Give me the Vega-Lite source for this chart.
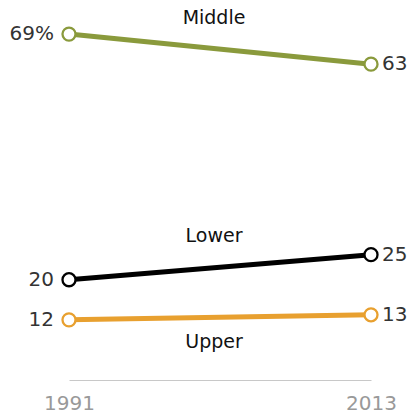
{
  "$schema": "https://vega.github.io/schema/vega-lite/v6.json",
  "autosize": "none",
  "width": 302,
  "height": 376,
  "padding": {"left": 69, "top": 4, "right": 41, "bottom": 39},
  "background": "white",
  "config": {"view": {"stroke": null}, "font": "DejaVu Sans"},
  "data": {"values": [
    {"series": "Middle", "year": 1991, "value": 69, "label": "69%"},
    {"series": "Middle", "year": 2013, "value": 63, "label": "63"},
    {"series": "Lower", "year": 1991, "value": 20, "label": "20"},
    {"series": "Lower", "year": 2013, "value": 25, "label": "25"},
    {"series": "Upper", "year": 1991, "value": 12, "label": "12"},
    {"series": "Upper", "year": 2013, "value": 13, "label": "13"}
  ]},
  "encoding": {
    "x": {"field": "year", "type": "quantitative",
      "scale": {"domain": [1991, 2013], "nice": false, "zero": false},
      "axis": {"title": null, "values": [1991, 2013], "format": "d", "grid": false, "ticks": false,
        "domainColor": "#c8c8c8", "domainWidth": 1, "labelColor": "#999999", "labelFontSize": 20,
        "labelPadding": 13, "labelFlush": false}},
    "y": {"field": "value", "type": "quantitative", "scale": {"domain": [0, 75], "nice": false}, "axis": null},
    "color": {"field": "series", "type": "nominal", "legend": null,
      "scale": {"domain": ["Middle", "Lower", "Upper"], "range": ["#8a9a3c", "#000000", "#e8a02f"]}}
  },
  "layer": [
    {"mark": {"type": "line", "strokeWidth": 5}},
    {"mark": {"type": "point", "shape": "circle", "filled": false, "fill": "white", "fillOpacity": 1, "strokeWidth": 2.3, "size": 170, "opacity": 1}},
    {"transform": [{"filter": "datum.year == 1991"}],
     "mark": {"type": "text", "align": "right", "baseline": "middle", "dx": -15, "fontSize": 20, "color": "#333333"},
     "encoding": {"text": {"field": "label"}, "color": {"value": "#333333"}}},
    {"transform": [{"filter": "datum.year == 2013"}],
     "mark": {"type": "text", "align": "left", "baseline": "middle", "dx": 11, "fontSize": 20, "color": "#333333"},
     "encoding": {"text": {"field": "label"}, "color": {"value": "#333333"}}},
    {"transform": [{"filter": "datum.series != 'Upper'"}],
     "mark": {"type": "text", "align": "center", "baseline": "middle", "dx": -6, "dy": -31, "fontSize": 19, "color": "#111111"},
     "encoding": {
       "x": {"aggregate": "mean", "field": "year", "type": "quantitative"},
       "y": {"aggregate": "mean", "field": "value", "type": "quantitative"},
       "text": {"field": "series"}, "color": {"value": "#111111"}}},
    {"transform": [{"filter": "datum.series == 'Upper'"}],
     "mark": {"type": "text", "align": "center", "baseline": "middle", "dx": -6, "dy": 25, "fontSize": 19, "color": "#111111"},
     "encoding": {
       "x": {"aggregate": "mean", "field": "year", "type": "quantitative"},
       "y": {"aggregate": "mean", "field": "value", "type": "quantitative"},
       "text": {"field": "series"}, "color": {"value": "#111111"}}}
  ]
}
